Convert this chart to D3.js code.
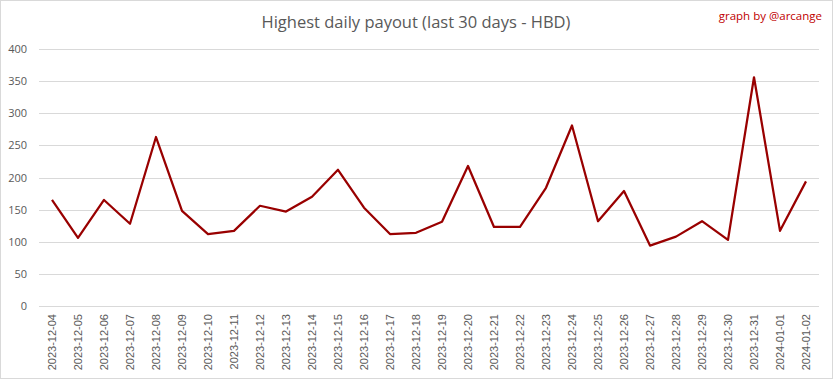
<!DOCTYPE html>
<html>
<head>
<meta charset="utf-8">
<script src="https://cdn.jsdelivr.net/npm/d3@7"></script>
<style>
  body { margin: 0; background: #fff; }
  svg { display: block; font-family: "Open Sans", "Liberation Sans", sans-serif; }
</style>
</head>
<body>
<div id="chart"></div>
<script>
const dates = [
    "2023-12-04", "2023-12-05", "2023-12-06", "2023-12-07", "2023-12-08",
    "2023-12-09", "2023-12-10", "2023-12-11", "2023-12-12", "2023-12-13",
    "2023-12-14", "2023-12-15", "2023-12-16", "2023-12-17", "2023-12-18",
    "2023-12-19", "2023-12-20", "2023-12-21", "2023-12-22", "2023-12-23",
    "2023-12-24", "2023-12-25", "2023-12-26", "2023-12-27", "2023-12-28",
    "2023-12-29", "2023-12-30", "2023-12-31", "2024-01-01", "2024-01-02"
];
const payouts = [
    165, 106, 165, 128, 263, 148, 112, 117, 156, 147,
    170, 212, 153, 112, 114, 131, 218, 123, 123, 184,
    281, 132, 179, 94, 108, 132, 103, 356, 117, 194
];
const yTicks = [0, 50, 100, 150, 200, 250, 300, 350, 400];

const width = 833, height = 379;
const margin = { top: 49, right: 14, bottom: 73, left: 39 };

const svg = d3.select('#chart').append('svg')
    .attr('width', width)
    .attr('height', height);

// chart border
svg.append('rect')
    .attr('x', 0.5).attr('y', 0.5)
    .attr('width', width - 1).attr('height', height - 1)
    .attr('fill', '#fff')
    .attr('stroke', '#d9d9d9');

const x = d3.scaleBand()
    .domain(dates)
    .range([margin.left, width - margin.right])
    .paddingInner(0).paddingOuter(0);

const y = d3.scaleLinear()
    .domain([0, 400])
    .range([height - margin.bottom, margin.top]);

// gridlines
svg.append('g')
    .selectAll('line')
    .data(yTicks)
    .enter().append('line')
    .attr('x1', margin.left)
    .attr('x2', width - margin.right)
    .attr('y1', d => Math.round(y(d)) + 0.5)
    .attr('y2', d => Math.round(y(d)) + 0.5)
    .attr('stroke', '#d9d9d9')
    .attr('stroke-width', 1);

// y axis labels
const yAxis = svg.append('g')
    .attr('transform', `translate(${margin.left},0)`)
    .call(d3.axisLeft(y).tickValues(yTicks).tickSize(0).tickPadding(12));
yAxis.select('.domain').remove();
yAxis.selectAll('text')
    .attr('fill', '#595959')
    .attr('font-size', '11px')
    .attr('font-family', '"Open Sans", "Liberation Sans", sans-serif');

// x axis labels
const xAxis = svg.append('g')
    .attr('transform', `translate(0,${height - margin.bottom})`)
    .call(d3.axisBottom(x).tickSize(0).tickPadding(0));
xAxis.select('.domain').remove();
xAxis.selectAll('text')
    .attr('fill', '#595959')
    .attr('font-size', '11px')
    .attr('font-family', '"Liberation Sans", sans-serif')
    .attr('text-anchor', 'end')
    .attr('transform', 'rotate(-90)')
    .attr('x', -8)
    .attr('y', 0)
    .attr('dy', '0.35em');

// line
const line = d3.line()
    .x((d, i) => x(dates[i]) + x.bandwidth() / 2)
    .y(d => y(d));

svg.append('path')
    .datum(payouts)
    .attr('fill', 'none')
    .attr('stroke', '#990000')
    .attr('stroke-width', 2.25)
    .attr('stroke-linejoin', 'round')
    .attr('d', line);

// title
svg.append('text')
    .attr('x', 416)
    .attr('y', 28)
    .attr('text-anchor', 'middle')
    .attr('fill', '#595959')
    .attr('font-size', '16.5px')
    .text('Highest daily payout (last 30 days - HBD)');

svg.append('text')
    .attr('x', 822)
    .attr('y', 20)
    .attr('text-anchor', 'end')
    .attr('fill', '#c00000')
    .attr('font-size', '11.5px')
    .text('graph by @arcange');
</script>
</body>
</html>
